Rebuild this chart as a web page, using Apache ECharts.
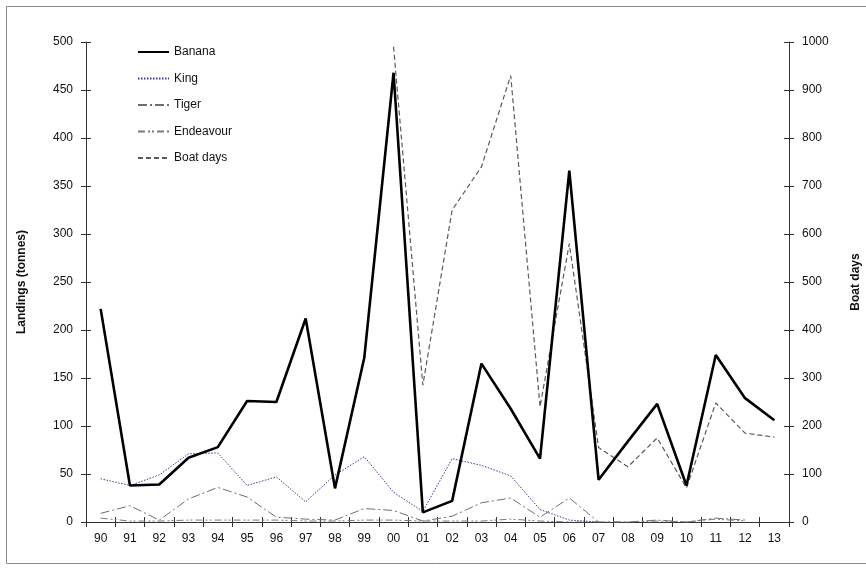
<!DOCTYPE html>
<html><head><meta charset="utf-8">
<script src="https://cdn.jsdelivr.net/npm/echarts@6/dist/echarts.min.js"></script>
<style>html,body{margin:0;padding:0;background:#fff}#c{width:866px;height:571px}</style>
</head><body><div id="c"></div>
<script>
const years = ['90','91','92','93','94','95','96','97','98','99','00','01','02','03','04','05','06','07','08','09','10','11','12','13'];
const banana = [222,38,39,67,78,126,125,212,35,171,468,10,22,165,118,66,366,44,84,123,38,174,129,106];
const king = [45,38,49,71,72,38,47,21,49,68,31,11,66,59,48,13,2,0,null,null,null,null,null,null];
const tiger = [9,17,2,24,36,26,5,3,2,14,12,1,6,20,25,5,25,0,0,2,0,4,2,null];
const endeavour = [4,1,1,2,2,2,2,1,1,2,2,1,1,1,3,1,0,0,0,1,0,3,1,null];
const boatDays = [null,null,null,null,null,null,null,null,null,null,990,285,650,740,930,240,580,155,115,175,71,248,185,177];
const leftTicks = {min:0,max:500,interval:50};
const rightTicks = {min:0,max:1000,interval:100};

const FONT = 'Liberation Sans, Arial, sans-serif';
const axisCol = '#333';
const chart = echarts.init(document.getElementById('c'));
function yAx(pos, t, opts){
  return Object.assign({
    type:'value', position:pos, min:t.min, max:t.max, interval:t.interval,
    splitLine:{show:false},
    axisLine:{show:true, lineStyle:{color:axisCol,width:1}},
    axisTick:{show:true, inside:false, length:5, lineStyle:{color:axisCol}},
    axisLabel:{color:'#111', fontFamily:FONT, fontSize:12, margin:13, formatter:function(v){return String(v);}}
  }, opts||{});
}
chart.setOption({
  backgroundColor:'#fff',
  animation:false,
  grid:{left:86, right:77, top:42, bottom:49, containLabel:false, outerBoundsMode:'none'},
  graphic:[{type:'rect', shape:{x:6.5,y:6.5,width:870,height:557}, style:{fill:'none', stroke:'#8a8a8a', lineWidth:1}, silent:true, z:-1}],
  legend:{
    orient:'vertical', left:132, top:41, itemWidth:31, itemHeight:14, itemGap:14.5,
    itemStyle:{opacity:0},
    textStyle:{fontFamily:FONT, fontSize:12, color:'#111'},
    data:['Banana','King','Tiger','Endeavour','Boat days']
  },
  xAxis:[
    {type:'category', data:years, boundaryGap:true, position:'bottom',
     axisLine:{show:true, lineStyle:{color:axisCol}},
     axisTick:{show:true, inside:false, length:5, lineStyle:{color:axisCol}},
     axisLabel:{color:'#111', fontFamily:FONT, fontSize:12, margin:11, interval:0}},
    {type:'category', data:years, boundaryGap:true, position:'bottom',
     axisLine:{show:false},
     axisTick:{show:true, inside:true, length:5, lineStyle:{color:axisCol}},
     axisLabel:{show:false}}
  ],
  yAxis:[
    yAx('left', leftTicks, {name:'Landings (tonnes)', nameLocation:'middle', nameGap:58, nameRotate:90,
      nameTextStyle:{fontFamily:FONT, fontSize:12, fontWeight:'bold', color:'#111'}}),
    yAx('right', rightTicks, {name:'Boat days', nameLocation:'middle', nameGap:61, nameRotate:90,
      nameTextStyle:{fontFamily:FONT, fontSize:12, fontWeight:'bold', color:'#111'}}),
    yAx('left', leftTicks, {axisLine:{show:false}, axisTick:{show:true, inside:true, length:5, lineStyle:{color:axisCol}}, axisLabel:{show:false}}),
    yAx('right', rightTicks, {axisLine:{show:false}, axisTick:{show:true, inside:true, length:5, lineStyle:{color:axisCol}}, axisLabel:{show:false}})
  ],
  series:[
    {name:'Banana', type:'line', data:banana, yAxisIndex:0, symbol:'none', z:5,
     itemStyle:{color:'#000'}, lineStyle:{color:'#000', width:2.6}},
    {name:'King', type:'line', data:king, yAxisIndex:0, symbol:'none', z:4,
     itemStyle:{color:'#3a3a96'}, lineStyle:{color:'#3a3a96', width:1, type:[1.5,1.5]}},
    {name:'Tiger', type:'line', data:tiger, yAxisIndex:0, symbol:'none', z:3,
     itemStyle:{color:'#6e6e6e'}, lineStyle:{color:'#6e6e6e', width:1, type:[9,3,2,3]}},
    {name:'Endeavour', type:'line', data:endeavour, yAxisIndex:0, symbol:'none', z:3,
     itemStyle:{color:'#7a7a7a'}, lineStyle:{color:'#7a7a7a', width:1, type:[7,3,2,2,2,3]}},
    {name:'Boat days', type:'line', data:boatDays, yAxisIndex:1, symbol:'none', z:2,
     itemStyle:{color:'#5a5a5a'}, lineStyle:{color:'#5a5a5a', width:1.2, type:[5,3]}}
  ]
});
</script></body></html>
